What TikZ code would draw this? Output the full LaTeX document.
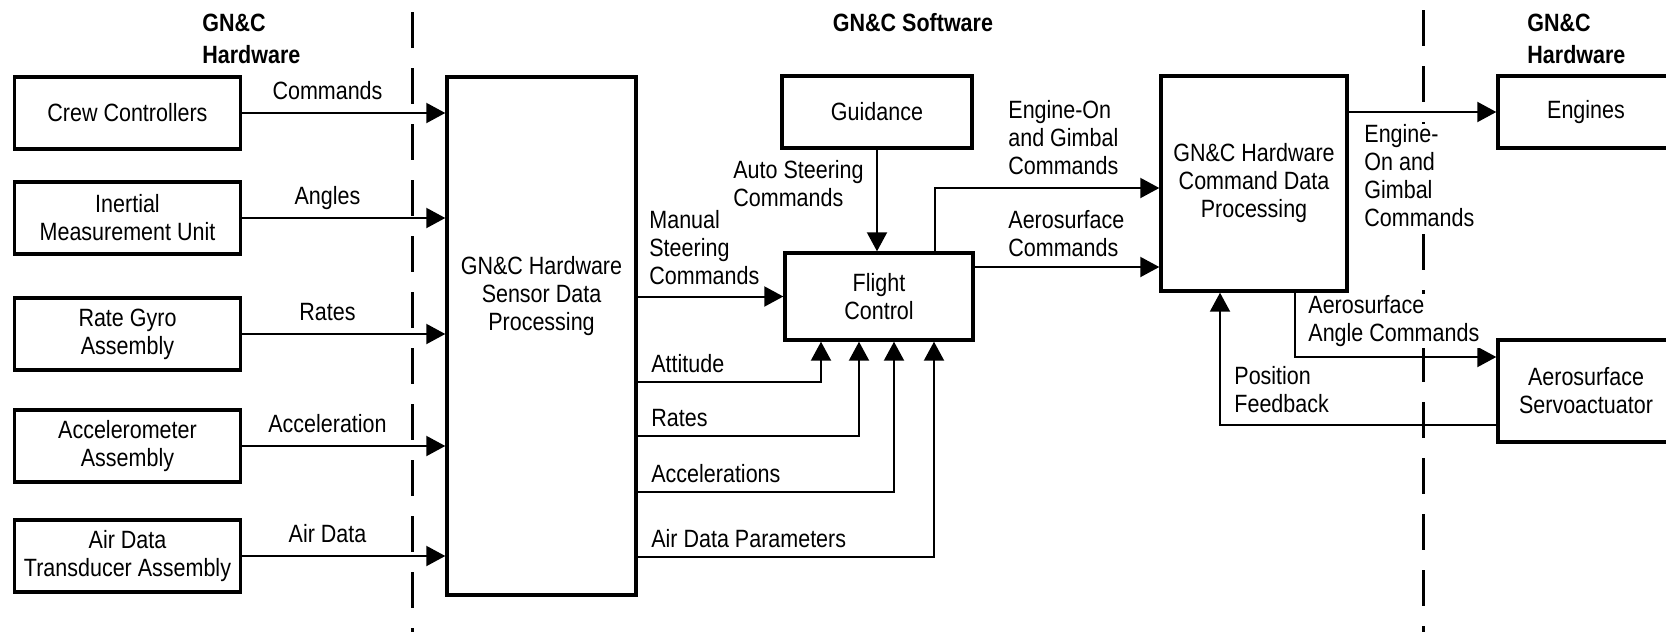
\documentclass[tikz,border=0pt]{standalone}
\usepackage{fontspec}
\setmainfont{Liberation Sans}[FakeStretch=0.86]
\usepackage{tikz}
\usetikzlibrary{arrows.meta,calc}

\begin{document}
\begin{tikzpicture}[
  x=0.5pt, y=-0.5pt,
  every node/.style={font=\fontsize{12.5pt}{14pt}\selectfont},
  blk/.style={draw, line width=1.7pt, minimum width=113pt, minimum height=36pt, align=center, inner sep=0pt},
  conn/.style={line width=1pt, -{Triangle[length=9.5pt,width=10pt]}},
  lab/.style={align=left, anchor=west, inner sep=0.5pt, fill=white},
  hdr/.style={font=\fontsize{12.5pt}{16pt}\selectfont\bfseries, align=left, anchor=west, inner sep=0pt},
  bound/.style={line width=1.5pt, dash pattern=on 18pt off 10pt}
]
\useasboundingbox (0,0) rectangle (1666,632);

% hardware / software boundaries
\draw[bound] (412,12) -- (412,632);
\draw[bound] (1423,10) -- (1423,632);

\node[hdr] (hwL) at (202,39) {GN\&C\\Hardware};
\node[hdr, anchor=center] (sw) at (913,23) {GN\&C Software};
\node[hdr] (hwR) at (1527,39) {GN\&C\\Hardware};

% sensors
\foreach \id/\y/\txt in {crew/113/Crew Controllers, imu/218/{Inertial\\Measurement Unit},
    rga/334/{Rate Gyro\\Assembly}, acc/446/{Accelerometer\\Assembly}, adta/556/{Air Data\\Transducer Assembly}} {
  \node[blk] (\id) at (127.5,\y) {\txt};
}
\node[blk, minimum width=94.5pt, minimum height=259pt] (sdp) at (541.5,336) {};
\node[align=center] (sdptxt) at (541.5,296) {GN\&C Hardware\\Sensor Data\\Processing};

\foreach \id/\lab in {crew/Commands, imu/Angles, rga/Rates, acc/Acceleration, adta/Air Data} {
  \draw[conn] (\id.east) -- (\id.east -| sdp.west) node[pos=0.42, anchor=base, yshift=7pt] {\lab};
}

% software
\node[blk, minimum width=95pt] (gd) at (877,112) {Guidance};
\node[blk, minimum width=94pt, minimum height=43.5pt] (fc) at (879,296.5) {Flight\\Control};
\node[blk, minimum width=93pt, minimum height=107.5pt] (cdp) at (1254,183.5) {GN\&C Hardware\\Command Data\\Processing};

\draw[conn] (gd.south) -- (gd.south |- fc.north);
\node[lab] (asc) at (732,184) {Auto Steering\\Commands};
\draw[conn] (sdp.east |- fc.west) -- (fc.west);
\node[lab] (msc) at (648,248) {Manual\\Steering\\Commands};

\foreach \name/\y/\x in {Attitude/382/821, Rates/436/859, Accelerations/492/894, Air Data Parameters/557/934} {
  \draw[conn] (sdp.east |- 0,\y) node[anchor=base west, xshift=3pt, yshift=5pt] {\name}
    -- (\x,\y) -- (\x,0 |- fc.south);
}

\draw[conn] ($(fc.north)+(56,0)$) |- ($(cdp.west)+(0,4.5)$);
\node[lab] (eoc) at (1007,138) {Engine-On\\and Gimbal\\Commands};
\draw[conn] ($(fc.east)+(0,-29.5)$) coordinate (aero) -- (aero -| cdp.west);
\node[lab] (aec) at (1007,234) {Aerosurface\\Commands};

% actuators
\node[blk, minimum width=88pt] (eng) at (1586,112) {Engines};
\node[blk, minimum width=88pt, minimum height=51pt] (srv) at (1586,391) {Aerosurface\\Servoactuator};

\draw[conn] (cdp.east |- eng.west) -- (eng.west);
\node[lab] (egc) at (1363,176) {Engine-\\On and\\Gimbal\\Commands};
\draw[conn] ($(cdp.south)+(41,0)$) |- ($(srv.west)+(0,-34)$);
\node[lab] (aac) at (1307,321) {Aerosurface\\Angle Commands};
\draw[conn] ($(srv.west)+(0,34)$) -| ($(cdp.south)+(-34,0)$);
\node[lab] (pfb) at (1233,390) {Position\\Feedback};
\end{tikzpicture}
\end{document}
